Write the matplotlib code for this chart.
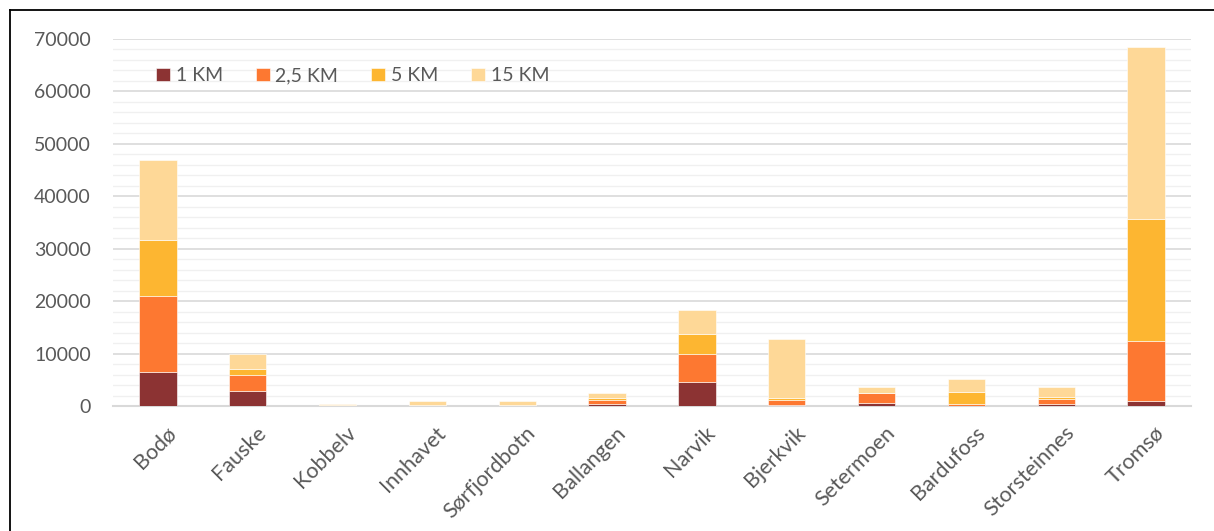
import matplotlib.pyplot as plt
import numpy as np
from matplotlib.lines import Line2D
from matplotlib.ticker import MultipleLocator
from matplotlib.transforms import ScaledTranslation

places = ['Bodø', 'Fauske', 'Kobbelv', 'Innhavet', 'Sørfjordbotn', 'Ballangen',
          'Narvik', 'Bjerkvik', 'Setermoen', 'Bardufoss', 'Storsteinnes', 'Tromsø']
km1 = [6500, 2800, 0, 0, 0, 400, 4600, 100, 600, 50, 350, 950]
km2_5 = [14500, 3200, 30, 30, 20, 800, 5400, 1100, 1800, 250, 950, 11500]
km5 = [10700, 1000, 80, 200, 80, 300, 3700, 300, 50, 2450, 500, 23200]
km15 = [15300, 2900, 350, 670, 800, 950, 4600, 11300, 1250, 2400, 1900, 32800]

series = [km1, km2_5, km5, km15]
names = ['1 KM', '2,5 KM', '5 KM', '15 KM']
colors = ['#8c3333', '#fd7831', '#fdb631', '#fed897']

plt.rcParams['font.family'] = ['Lato', 'DejaVu Sans']
txt = '#595959'

fig = plt.figure(figsize=(12.14, 5.31), dpi=100)
ax = fig.add_axes([0.0931, 0.2354, 0.8879, 0.6912])

x = np.arange(len(places))
bottom = np.zeros(len(places))
for vals, name, c in zip(series, names, colors):
    ax.bar(x, vals, 0.415, bottom=bottom, color=c, label=name,
           edgecolor='white', linewidth=0.4, zorder=3)
    bottom += np.array(vals)

ax.set_xlim(-0.5, len(places) - 0.5)
ax.set_ylim(0, 70000)
ax.yaxis.set_major_locator(MultipleLocator(10000))
ax.yaxis.set_minor_locator(MultipleLocator(2000))
ax.grid(axis='y', which='major', color='#d9d9d9', linewidth=1.2, zorder=0)
ax.grid(axis='y', which='minor', color='#f0f0f0', linewidth=1.0, zorder=0)
for s in ['top', 'right', 'left']:
    ax.spines[s].set_visible(False)
ax.spines['bottom'].set_color('#d9d9d9')
ax.spines['bottom'].set_linewidth(1.5)
ax.tick_params(axis='y', which='both', length=0, pad=16, labelsize=14, labelcolor=txt)
ax.tick_params(axis='x', length=0, pad=12, labelsize=15.5, labelcolor=txt)
ax.set_xticks(x)
ax.set_xticklabels(places, rotation=45, ha='right', rotation_mode='anchor')
shift = ScaledTranslation(8 / 100, 0, fig.dpi_scale_trans)
for lab in ax.get_xticklabels():
    lab.set_transform(lab.get_transform() + shift)

ax.legend(loc='center left', bbox_to_anchor=(0.033, 0.9), ncol=4, frameon=False,
          fontsize=14, labelcolor=txt, handlelength=0.7, handleheight=0.7,
          handletextpad=0.3, columnspacing=1.7, borderaxespad=0)

# figure border (only top and left visible)
fig.add_artist(Line2D([9.5 / 1214, 1.0], [1 - 10 / 531, 1 - 10 / 531],
                      transform=fig.transFigure, color='black', linewidth=1.3))
fig.add_artist(Line2D([9.5 / 1214, 9.5 / 1214], [0.0, 1 - 10 / 531],
                      transform=fig.transFigure, color='black', linewidth=1.3))

fig.savefig('out.png', dpi=100)
